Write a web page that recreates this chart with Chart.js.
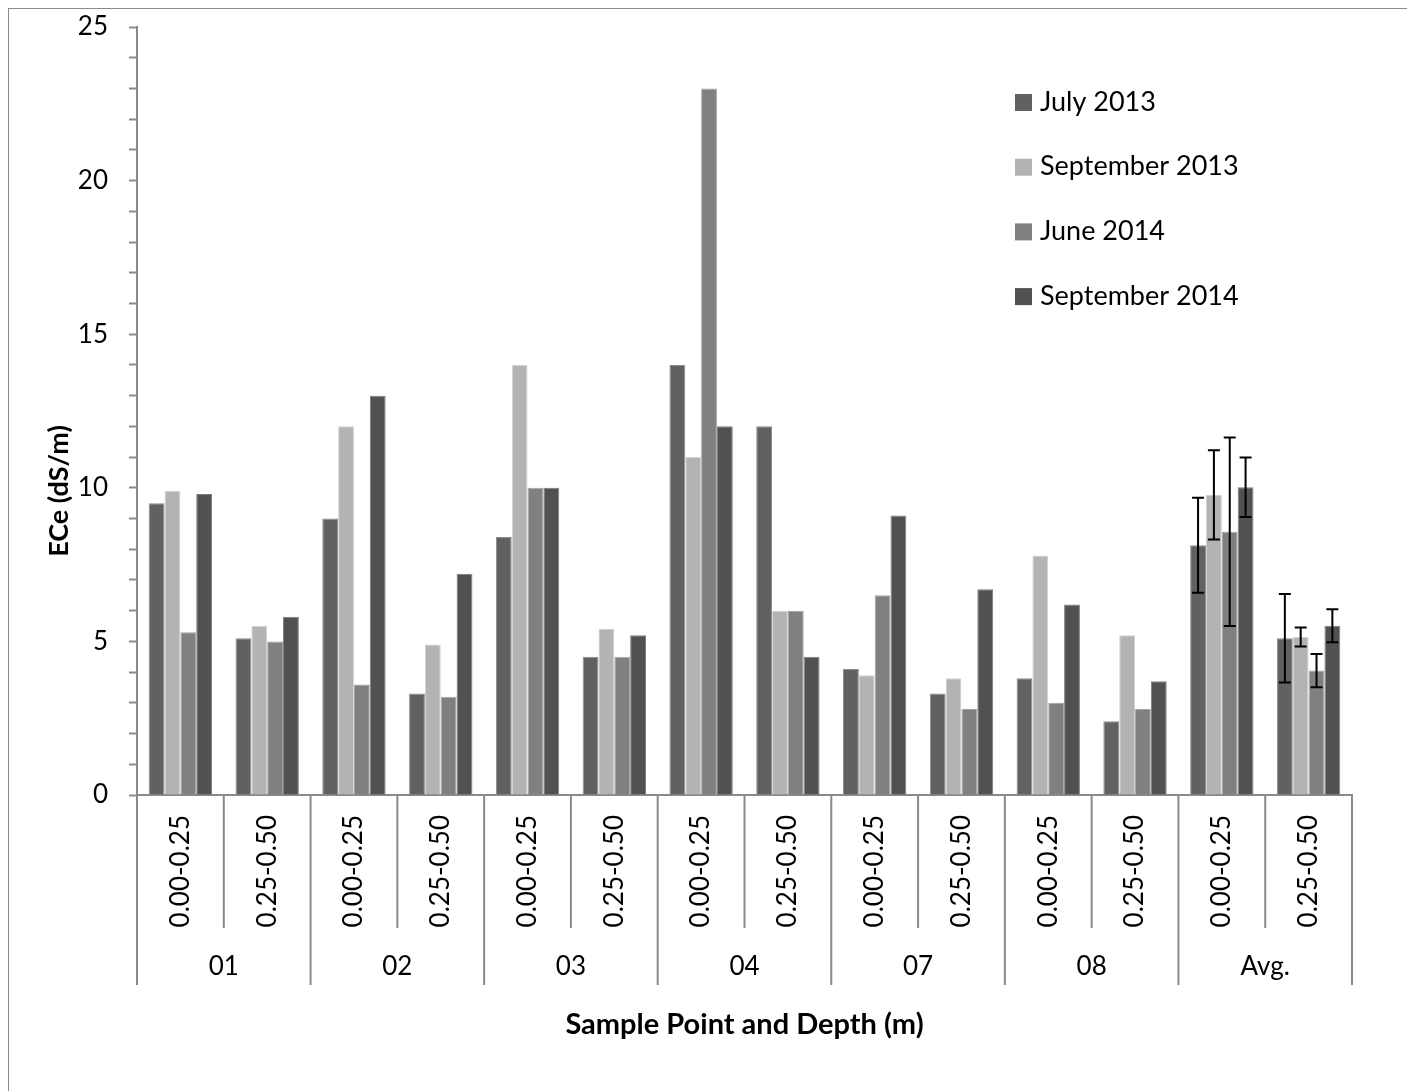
<!DOCTYPE html>
<html>
<head>
<meta charset="utf-8">
<script src="https://cdn.jsdelivr.net/npm/chart.js@4.4.0/dist/chart.umd.min.js"></script>
<style>
  body { margin: 0; background: #fff; overflow: hidden; }
  #wrap { position: relative; width: 1407px; height: 1091px; }
  #frame { position: absolute; left: 8px; top: 8px; width: 1500px; height: 1200px;
           border-left: 1px solid #8a8a8a; border-top: 1px solid #8a8a8a; }
  canvas { position: absolute; left: 0; top: 0; }
</style>
</head>
<body>
<div id="wrap">
  <div id="frame"></div>
  <canvas id="chart" width="1407" height="1091"></canvas>
</div>
<script>
const depthLabels = ["0.00-0.25", "0.25-0.50", "0.00-0.25", "0.25-0.50", "0.00-0.25", "0.25-0.50",
  "0.00-0.25", "0.25-0.50", "0.00-0.25", "0.25-0.50", "0.00-0.25", "0.25-0.50", "0.00-0.25", "0.25-0.50"];
const groupLabels = ["01", "02", "03", "04", "07", "08", "Avg."];

const july2013 = [9.5, 5.1, 9.0, 3.3, 8.4, 4.5, 14.0, 12.0, 4.1, 3.3, 3.8, 2.4, 8.13, 5.10];
const sep2013  = [9.9, 5.5, 12.0, 4.9, 14.0, 5.4, 11.0, 6.0, 3.9, 3.8, 7.8, 5.2, 9.77, 5.14];
const june2014 = [5.3, 5.0, 3.6, 3.2, 10.0, 4.5, 23.0, 6.0, 6.5, 2.8, 3.0, 2.8, 8.57, 4.05];
const sep2014  = [9.8, 5.8, 13.0, 7.2, 10.0, 5.2, 12.0, 4.5, 9.1, 6.7, 6.2, 3.7, 10.02, 5.51];

// error bars only on the averages
const july2013Err = [null, null, null, null, null, null, null, null, null, null, null, null, 1.55, 1.44];
const sep2013Err  = [null, null, null, null, null, null, null, null, null, null, null, null, 1.45, 0.31];
const june2014Err = [null, null, null, null, null, null, null, null, null, null, null, null, 3.07, 0.54];
const sep2014Err  = [null, null, null, null, null, null, null, null, null, null, null, null, 0.97, 0.54];

const FONT = "Lato";
const axisGray = "#8a8a8a";
const yTitle = "ECe (dS/m)";

const errorBars = {
  id: "errorBars",
  afterDatasetsDraw(chart) {
    const ctx = chart.ctx;
    const y = chart.scales.y;
    ctx.save();
    ctx.strokeStyle = "#000";
    ctx.lineWidth = 2;
    chart.data.datasets.forEach((ds, di) => {
      const meta = chart.getDatasetMeta(di);
      ds.errors.forEach((e, i) => {
        if (e == null) return;
        const x = meta.data[i].x;
        const top = y.getPixelForValue(ds.data[i] + e);
        const bot = y.getPixelForValue(ds.data[i] - e);
        ctx.beginPath();
        ctx.moveTo(x, top); ctx.lineTo(x, bot);
        ctx.moveTo(x - 6, top); ctx.lineTo(x + 6, top);
        ctx.moveTo(x - 6, bot); ctx.lineTo(x + 6, bot);
        ctx.stroke();
      });
    });
    ctx.restore();
  }
};

const groupAxis = {
  id: "groupAxis",
  afterDraw(chart) {
    const ctx = chart.ctx;
    const xs = chart.scales.x;
    const bottom = chart.chartArea.bottom;
    const half = (xs.getPixelForValue(1) - xs.getPixelForValue(0)) / 2;
    ctx.save();
    ctx.strokeStyle = axisGray;
    ctx.lineWidth = 2;
    for (let i = 0; i <= depthLabels.length; i++) {
      const x = i < depthLabels.length ? xs.getPixelForValue(i) - half : xs.getPixelForValue(i - 1) + half;
      ctx.beginPath();
      ctx.moveTo(x, bottom);
      ctx.lineTo(x, bottom + (i % 2 === 0 ? 190 : 133));
      ctx.stroke();
    }
    ctx.fillStyle = "#000";
    ctx.font = "26px " + FONT;
    ctx.textAlign = "center";
    ctx.textBaseline = "middle";
    groupLabels.forEach((g, gi) => {
      const x = (xs.getPixelForValue(gi * 2) + xs.getPixelForValue(gi * 2 + 1)) / 2;
      ctx.fillText(g, x, bottom + 172);
    });

    // y axis title, sits a bit below the middle like the original
    ctx.font = "bold 27px " + FONT;
    ctx.translate(59, 491);
    ctx.rotate(-Math.PI / 2);
    ctx.fillText(yTitle, 0, 0);
    ctx.restore();
  }
};

const sideLegend = {
  id: "sideLegend",
  afterDraw(chart) {
    const ctx = chart.ctx;
    ctx.save();
    ctx.font = "27px " + FONT;
    ctx.textBaseline = "middle";
    ctx.textAlign = "left";
    chart.data.datasets.forEach((ds, i) => {
      const cy = 102 + i * 64.7;
      ctx.fillStyle = ds.backgroundColor;
      ctx.fillRect(1015, cy - 8, 17, 17);
      ctx.fillStyle = "#000";
      ctx.fillText(ds.label, 1040, cy);
    });
    ctx.restore();
  }
};

new Chart(document.getElementById("chart"), {
  type: "bar",
  data: {
    labels: depthLabels,
    datasets: [
      { label: "July 2013", data: july2013, errors: july2013Err, backgroundColor: "#616161", borderColor: "#8c8c8c" },
      { label: "September 2013", data: sep2013, errors: sep2013Err, backgroundColor: "#b3b3b3", borderColor: "#d2d2d2" },
      { label: "June 2014", data: june2014, errors: june2014Err, backgroundColor: "#808080", borderColor: "#a4a4a4" },
      { label: "September 2014", data: sep2014, errors: sep2014Err, backgroundColor: "#515151", borderColor: "#7c7c7c" }
    ]
  },
  options: {
    responsive: false,
    animation: false,
    layout: { padding: { top: 27, right: 55, left: 0, bottom: 0 } },
    datasets: { bar: { categoryPercentage: 0.73, barPercentage: 1.0, borderWidth: 1 } },
    plugins: { legend: { display: false }, tooltip: { enabled: false } },
    scales: {
      x: {
        afterFit: s => { s.height = 296; },
        grid: { drawOnChartArea: false, drawTicks: false },
        border: { color: axisGray, width: 2 },
        ticks: { color: "#000", font: { family: FONT, size: 26 }, minRotation: 90, maxRotation: 90, padding: 20, autoSkip: false },
        title: { display: true, text: "Sample Point and Depth (m)", color: "#000",
                 font: { family: FONT, size: 29, weight: "bold" }, padding: { top: 0, bottom: 49 } }
      },
      y: {
        min: 0, max: 25,
        afterFit: s => { s.width = 137; s.paddingTop = 0; s.paddingBottom = 0; },
        grid: { drawOnChartArea: false, drawTicks: true, tickLength: 8, tickColor: axisGray, tickWidth: 2 },
        border: { color: axisGray, width: 2 },
        ticks: { stepSize: 1, padding: 21, autoSkip: false, color: "#000", font: { family: FONT, size: 26 },
                 callback: v => (v % 5 === 0 ? v : "") }
      }
    }
  },
  plugins: [errorBars, groupAxis, sideLegend]
});
</script>
</body>
</html>
